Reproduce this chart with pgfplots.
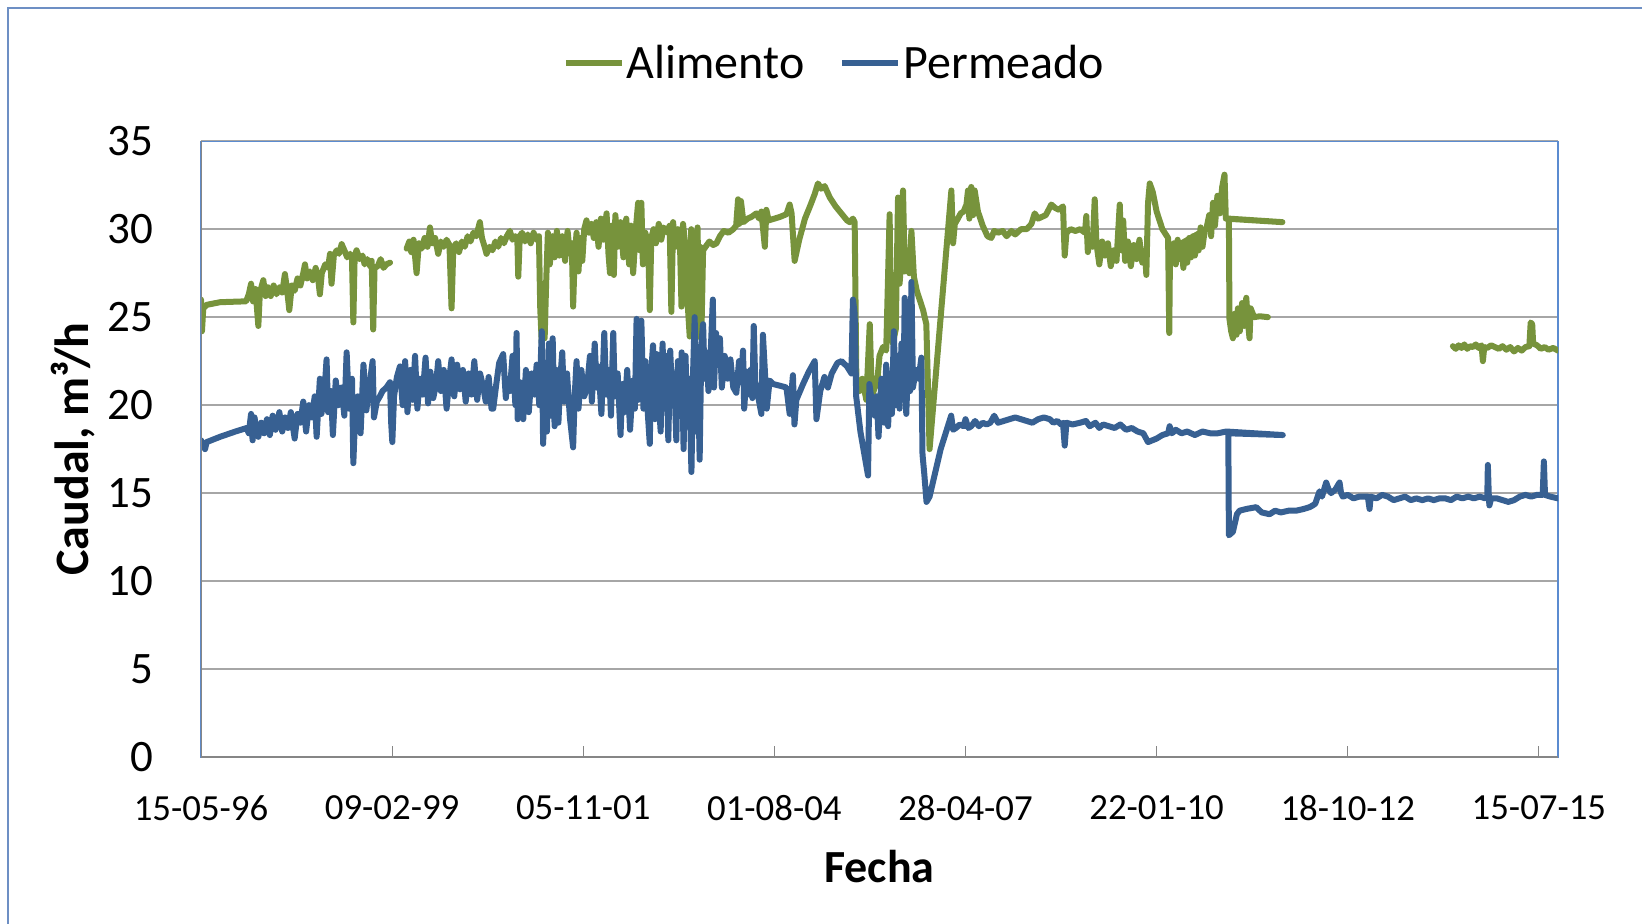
\documentclass[border=0pt]{standalone}
\usepackage{fontspec}
\setmainfont{Carlito}
\usepackage{pgfplots}
\pgfplotsset{compat=1.18}
\definecolor{alim}{HTML}{77933C}
\definecolor{perm}{HTML}{376092}
\definecolor{gridc}{HTML}{A6A6A6}
\definecolor{axc}{HTML}{868686}
\definecolor{framec}{HTML}{6D8FC4}
\definecolor{plotframe}{HTML}{5B8BD0}
\begin{document}
\begin{tikzpicture}
\path[use as bounding box] (-100.5pt,-83pt) rectangle (720.5pt,378.5pt);
\draw[framec, line width=0.9pt] (-96.3pt,-90pt) -- (-96.3pt,374.3pt) -- (730pt,374.3pt);
\begin{axis}[
  at={(0pt,0pt)}, anchor=south west,
  scale only axis, width=678.5pt, height=307.9pt,
  xmin=0, xmax=7100, ymin=0, ymax=35,
  unbounded coords=jump,
  xtick={0,1000,...,7000},
  xticklabels={15-05-96,09-02-99,05-11-01,01-08-04,28-04-07,22-01-10,18-10-12,15-07-15},
  ytick={0,5,...,35},
  ymajorgrids, major grid style={gridc, line width=0.8pt},
  axis line style={plotframe, line width=0.6pt},
  tick align=inside,
  xtick pos=bottom, ytick pos=left,
  major tick length=5.5pt,
  ytick style={draw=none},
  xtick style={axc, line width=0.6pt},
  x tick label style={font=\fontsize{18.4pt}{20pt}\selectfont, anchor=north, inner sep=0pt, yshift=-19pt},
  y tick label style={font=\fontsize{22.5pt}{24pt}\selectfont, anchor=east, inner sep=0pt, xshift=-23.5pt},
  /pgf/number format/assume math mode=true,
  xlabel={Fecha}, ylabel={Caudal, m³/h},
  xlabel style={font=\bfseries\fontsize{23pt}{26pt}\selectfont, at={(axis description cs:0.5,-0.1786)}, anchor=center},
  ylabel style={font=\bfseries\fontsize{24pt}{26pt}\selectfont, at={(axis description cs:-0.0943,0.5)}, anchor=center},
  legend style={at={(0.2663,1.127)}, anchor=west, draw=none, fill=none, inner sep=0pt, legend columns=2,
    font=\fontsize{24pt}{26pt}\selectfont, /tikz/every even column/.append style={column sep=16.5pt}, nodes={inner sep=1pt}},
  legend image code/.code={\draw[#1, line width=3pt, line cap=butt] (0pt,0pt) -- (28pt,0pt);},
]
\addplot[alim, line width=3pt, line join=round, line cap=round] coordinates {
(0,26.0)(5,24.2)(12,25.5)(30,25.7)(100,25.85)(236,25.9)(250,26.3)(262,26.9)(272,25.9)(285,26.6)(300,24.5)(308,26.4)(326,27.1)(338,26.2)(350,26.7)(365,26.2)(380,26.8)(395,26.3)(410,26.7)(425,26.4)(439,27.45)(450,26.6)(462,25.4)(475,26.8)(490,26.5)(505,27.2)(520,26.8)(535,27.5)(544,28.0)(555,27.2)(570,27.6)(585,27.1)(600,27.8)(612,27.3)(622,26.3)(632,27.5)(650,28.0)(665,27.8)(675,28.6)(683,26.9)(695,28.5)(710,28.8)(722,28.6)(736,29.15)(750,28.8)(765,28.4)(780,28.6)(790,28.3)(797,24.7)(804,28.5)(814,28.8)(830,28.3)(845,28.5)(856,28.0)(870,28.3)(885,27.9)(893,28.2)(901,24.3)(908,27.8)(925,27.9)(940,28.3)(955,27.8)(970,28.0)(989,28.1)
(1030,nan)
(1076,28.9)(1090,29.3)(1100,28.7)(1112,29.4)(1128,27.5)(1140,29.2)(1155,28.9)(1170,29.5)(1185,29.0)(1198,30.1)(1210,29.2)(1225,29.5)(1241,28.6)(1255,29.3)(1270,29.0)(1285,29.4)(1300,29.1)(1311,25.5)(1320,28.9)(1335,29.2)(1350,28.7)(1365,29.3)(1380,29.0)(1395,29.6)(1410,29.3)(1425,29.8)(1440,29.6)(1459,30.4)(1470,29.5)(1484,29.0)(1494,28.6)(1510,29.0)(1525,28.8)(1540,29.3)(1555,29.0)(1570,29.5)(1585,29.2)(1600,29.6)(1616,29.9)(1630,29.4)(1645,29.6)(1655,29.5)(1660,27.3)(1668,29.6)(1680,29.8)(1695,29.3)(1710,29.7)(1725,29.2)(1740,29.8)(1755,29.4)(1768,29.6)(1775,25.5)(1783,23.5)(1790,24.5)(1798,23.8)(1806,27.0)(1815,29.8)(1825,28.0)(1838,29.6)(1850,28.4)(1862,29.9)(1875,28.5)(1890,29.6)(1905,28.2)(1918,29.9)(1930,28.6)(1940,29.2)(1947,25.6)(1955,28.4)(1965,29.8)(1975,27.6)(1985,29.5)(1995,28.2)(2005,30.0)(2017,30.5)(2030,29.8)(2042,30.3)(2055,29.5)(2068,30.4)(2080,29.0)(2092,30.6)(2105,29.4)(2122,30.9)(2132,28.6)(2140,27.5)(2150,30.2)(2160,27.4)(2168,30.8)(2180,29.0)(2195,30.4)(2210,28.4)(2225,30.6)(2240,28.0)(2250,30.2)(2261,27.5)(2275,30.0)(2287,31.5)(2296,28.8)(2304,31.5)(2312,28.0)(2325,29.8)(2340,29.0)(2348,25.4)(2356,29.5)(2368,30.0)(2380,29.2)(2395,30.3)(2408,29.4)(2420,30.1)(2440,29.8)(2452,30.2)(2461,25.3)(2470,30.4)(2482,29.0)(2495,30.0)(2506,29.2)(2514,25.6)(2522,30.3)(2535,29.0)(2545,26.0)(2557,23.9)(2565,30.0)(2572,24.0)(2580,29.5)(2590,23.8)(2598,30.1)(2606,24.5)(2612,29.0)(2618,23.9)(2627,28.8)(2640,29.0)(2660,29.3)(2680,29.1)(2697,29.2)(2715,29.6)(2735,29.9)(2760,29.8)(2785,30.0)(2800,30.2)(2810,31.7)(2816,30.3)(2825,31.6)(2838,30.4)(2860,30.6)(2880,30.7)(2906,30.9)(2920,30.6)(2932,31.0)(2950,29.0)(2958,31.1)(2970,30.5)(3000,30.6)(3030,30.7)(3063,30.85)(3080,31.4)(3090,30.9)(3106,28.2)(3130,29.4)(3160,30.6)(3190,31.4)(3211,32.0)(3228,32.6)(3245,32.3)(3263,32.45)(3290,31.8)(3320,31.3)(3350,30.9)(3380,30.5)(3394,30.4)(3411,30.6)(3420,30.4)(3429,21.4)(3445,20.8)(3460,21.5)(3481,20.3)(3499,24.6)(3510,20.5)(3525,21.0)(3537,21.2)(3550,22.8)(3568,23.3)(3585,23.1)(3603,30.85)(3610,24.0)(3620,23.5)(3635,24.3)(3647,31.8)(3655,26.9)(3666,28.5)(3673,32.2)(3682,27.6)(3695,28.8)(3706,27.5)(3717,29.9)(3730,27.3)(3745,26.5)(3760,26.0)(3778,25.4)(3795,24.6)(3812,17.5)(3870,25.0)(3926,32.2)(3935,29.2)(3944,30.3)(3960,30.6)(3975,30.9)(3990,31.0)(4005,31.4)(4013,32.2)(4020,30.6)(4030,32.4)(4040,30.8)(4048,32.2)(4065,31.0)(4090,30.2)(4115,29.6)(4135,29.5)(4150,29.9)(4170,29.8)(4195,29.9)(4215,29.6)(4240,29.9)(4260,29.7)(4290,30.0)(4320,30.0)(4345,30.3)(4362,30.9)(4380,30.6)(4400,30.7)(4420,30.8)(4449,31.4)(4470,31.2)(4490,31.1)(4510,31.3)(4519,28.5)(4528,29.8)(4550,30.0)(4575,29.9)(4600,30.0)(4625,29.8)(4632,30.75)(4640,28.7)(4650,29.6)(4665,29.0)(4676,31.7)(4685,29.2)(4700,28.0)(4715,29.3)(4730,28.5)(4745,29.2)(4760,27.9)(4775,28.8)(4790,28.2)(4807,31.4)(4815,28.8)(4825,30.5)(4835,28.2)(4850,29.3)(4865,27.9)(4880,29.1)(4895,28.3)(4910,29.4)(4925,28.1)(4940,28.6)(4946,27.4)(4955,31.5)(4964,32.6)(4980,32.1)(5000,31.0)(5030,30.0)(5060,29.5)(5066,24.1)(5070,28.8)(5080,28.5)(5090,29.2)(5100,28.0)(5110,29.4)(5120,28.3)(5130,29.0)(5140,27.8)(5150,29.3)(5160,28.1)(5170,29.5)(5180,28.4)(5190,29.6)(5200,28.5)(5210,29.1)(5220,28.8)(5230,30.1)(5240,29.0)(5250,29.8)(5082,28.9)(5260,30.0)(5275,30.8)(5285,29.6)(5295,31.5)(5305,30.2)(5318,31.9)(5330,30.9)(5343,32.4)(5355,33.1)(5362,30.6)(5658,30.4)(5378,30.6)(5381,24.9)(5390,24.2)(5399,23.8)(5410,25.2)(5418,24.0)(5425,25.5)(5435,24.2)(5447,25.8)(5458,24.5)(5469,26.1)(5477,24.8)(5486,23.8)(5492,25.5)(5510,25.0)(5540,25.05)(5582,25.0)
(6000,nan)
(6550,23.35)(6565,23.2)(6580,23.4)(6595,23.25)(6610,23.45)(6625,23.2)(6640,23.35)(6655,23.3)(6670,23.45)(6685,23.25)(6700,23.4)(6707,22.5)(6714,23.3)(6730,23.25)(6750,23.4)(6770,23.3)(6790,23.2)(6810,23.35)(6830,23.15)(6850,23.3)(6870,23.05)(6890,23.25)(6910,23.1)(6930,23.3)(6950,23.35)(6957,24.7)(6965,24.6)(6970,23.5)(6990,23.4)(7010,23.2)(7030,23.3)(7050,23.15)(7075,23.25)(7100,23.1)
};
\addlegendentry{Alimento}
\addplot[perm, line width=3pt, line join=round, line cap=round] coordinates {
(0,18.0)(12,17.8)(21,17.5)(30,17.9)(100,18.2)(180,18.5)(239,18.7)(250,18.4)(262,19.5)(270,18.0)(280,19.3)(290,18.6)(300,18.2)(315,19.0)(330,18.4)(345,19.2)(360,18.3)(375,19.4)(390,18.6)(410,19.6)(425,18.5)(440,19.3)(455,18.7)(470,19.6)(490,18.1)(505,19.5)(520,19.0)(535,20.2)(550,18.5)(565,20.0)(580,19.3)(595,20.5)(605,18.2)(622,21.5)(630,19.5)(645,20.6)(657,22.6)(665,19.6)(680,20.8)(690,18.3)(705,21.4)(720,20.0)(735,21.0)(750,19.4)(762,23.0)(775,19.8)(790,21.5)(797,16.7)(805,19.0)(820,20.5)(835,18.4)(850,22.3)(865,19.7)(880,21.0)(898,22.5)(905,19.3)(920,20.2)(936,20.5)(950,20.8)(970,21.0)(989,21.3)(995,19.0)(1001,17.9)(1010,20.5)(1025,21.6)(1041,22.2)(1055,20.0)(1068,22.5)(1080,19.6)(1095,22.0)(1108,20.3)(1120,22.8)(1132,19.8)(1145,21.5)(1160,20.6)(1175,22.7)(1188,20.1)(1200,21.9)(1215,20.4)(1230,21.2)(1241,22.5)(1255,20.8)(1270,22.0)(1285,19.8)(1300,21.6)(1311,22.6)(1325,20.5)(1340,22.3)(1355,20.9)(1370,22.0)(1385,20.2)(1400,21.8)(1415,20.6)(1430,22.5)(1445,20.3)(1460,21.8)(1477,21.0)(1490,20.2)(1505,21.6)(1520,19.8)(1529,19.8)(1545,21.2)(1560,22.4)(1581,22.9)(1595,20.4)(1605,21.5)(1616,20.8)(1630,22.8)(1645,20.0)(1651,24.1)(1657,19.2)(1670,21.3)(1686,19.2)(1700,22.0)(1715,19.6)(1730,21.8)(1745,20.6)(1756,22.3)(1770,20.0)(1783,24.2)(1790,17.8)(1800,21.5)(1810,18.5)(1820,23.5)(1830,19.4)(1840,23.8)(1850,18.8)(1860,22.0)(1870,19.0)(1880,21.5)(1890,23.0)(1900,20.2)(1915,21.8)(1930,19.3)(1947,17.6)(1955,20.5)(1965,22.5)(1975,19.8)(1990,22.0)(2005,20.5)(2020,21.0)(2035,22.8)(2045,20.2)(2060,23.5)(2070,21.0)(2080,22.2)(2095,19.5)(2110,24.1)(2120,20.6)(2135,22.0)(2145,19.4)(2157,24.1)(2165,20.5)(2180,21.8)(2195,18.3)(2205,21.2)(2215,19.6)(2230,22.0)(2245,18.6)(2260,21.4)(2270,19.8)(2279,24.9)(2288,20.3)(2296,21.2)(2304,24.8)(2315,19.8)(2325,22.5)(2335,20.0)(2348,17.8)(2355,21.8)(2365,23.4)(2375,19.2)(2385,22.9)(2395,20.3)(2405,18.5)(2415,23.5)(2425,19.8)(2435,22.8)(2445,18.0)(2455,23.1)(2465,20.5)(2475,21.8)(2487,18.0)(2495,22.5)(2505,19.5)(2515,23.0)(2525,17.5)(2535,22.8)(2545,19.0)(2555,21.5)(2566,16.2)(2575,22.0)(2583,25.0)(2590,18.5)(2600,22.0)(2609,16.9)(2618,23.5)(2627,24.6)(2635,21.5)(2645,23.0)(2655,20.8)(2665,22.5)(2678,26.0)(2684,21.0)(2695,24.1)(2705,22.5)(2715,23.8)(2725,21.0)(2740,22.8)(2755,21.5)(2770,22.6)(2785,21.0)(2801,20.7)(2815,22.5)(2825,21.3)(2836,23.1)(2842,19.8)(2855,21.9)(2868,20.6)(2875,22.0)(2885,20.4)(2892,24.5)(2900,21.3)(2915,20.5)(2932,19.5)(2940,24.0)(2950,22.0)(2960,19.8)(2975,21.4)(2993,21.2)(3030,21.1)(3063,21.0)(3080,19.5)(3097,21.7)(3105,18.9)(3115,20.3)(3150,21.2)(3180,21.9)(3211,22.5)(3220,19.2)(3240,20.8)(3262,21.6)(3280,21.0)(3300,21.8)(3330,22.4)(3351,22.5)(3380,22.2)(3403,21.8)(3411,26.0)(3420,25.2)(3428,20.5)(3450,18.5)(3490,16.0)(3497,21.2)(3510,20.2)(3525,19.4)(3535,20.5)(3545,18.2)(3560,21.5)(3575,19.0)(3585,22.3)(3595,18.8)(3605,21.8)(3615,19.5)(3625,24.2)(3635,20.0)(3645,22.8)(3655,19.8)(3665,23.5)(3675,20.5)(3682,26.1)(3690,19.5)(3700,22.5)(3710,20.8)(3717,27.0)(3725,21.0)(3740,22.0)(3755,21.5)(3769,22.7)(3775,17.2)(3785,16.0)(3796,14.5)(3812,14.8)(3870,17.5)(3925,19.4)(3935,18.6)(3950,18.7)(3970,18.9)(3990,18.8)(4000,19.2)(4015,18.7)(4030,18.8)(4050,19.1)(4070,18.8)(4090,19.0)(4110,18.9)(4130,19.0)(4150,19.4)(4170,19.0)(4200,19.1)(4230,19.2)(4260,19.3)(4290,19.2)(4320,19.1)(4350,19.0)(4380,19.2)(4410,19.3)(4441,19.2)(4460,19.0)(4480,19.1)(4500,18.9)(4510,19.0)(4519,17.7)(4528,19.0)(4560,18.9)(4600,19.0)(4630,19.1)(4650,18.8)(4680,19.0)(4700,18.7)(4720,18.9)(4750,18.8)(4780,18.7)(4810,18.9)(4840,18.6)(4870,18.7)(4900,18.5)(4930,18.4)(4955,17.9)(5000,18.1)(5030,18.3)(5060,18.4)(5068,18.8)(5080,18.4)(5100,18.6)(5130,18.4)(5160,18.5)(5200,18.3)(5240,18.5)(5280,18.4)(5320,18.4)(5364,18.5)(5660,18.3)(5375,18.4)(5378,12.6)(5399,12.8)(5420,13.8)(5434,14.0)(5470,14.1)(5521,14.2)(5550,13.9)(5591,13.8)(5620,14.0)(5650,13.9)(5690,14.0)(5730,14.0)(5770,14.1)(5800,14.2)(5817,14.3)(5830,14.4)(5852,15.1)(5865,14.8)(5887,15.6)(5900,15.2)(5913,15.0)(5935,15.2)(5957,15.6)(5965,15.0)(5974,14.8)(6000,14.9)(6030,14.7)(6060,14.8)(6079,14.8)(6105,14.8)(6114,14.1)(6120,14.8)(6150,14.7)(6180,14.9)(6210,14.8)(6240,14.6)(6270,14.7)(6300,14.8)(6330,14.6)(6358,14.7)(6390,14.6)(6420,14.7)(6450,14.6)(6480,14.7)(6510,14.7)(6540,14.6)(6570,14.8)(6600,14.7)(6630,14.8)(6660,14.7)(6690,14.8)(6720,14.7)(6730,14.8)(6733,16.6)(6738,14.8)(6741,14.3)(6750,14.7)(6780,14.7)(6810,14.6)(6840,14.5)(6870,14.6)(6900,14.8)(6930,14.9)(6960,14.8)(6990,14.9)(7020,14.9)(7026,16.8)(7032,14.9)(7060,14.8)(7100,14.7)
};
\addlegendentry{Permeado}
\draw[axc, line width=1pt] (rel axis cs:0,1) -- (rel axis cs:0,0) -- (rel axis cs:1,0);
\end{axis}
\end{tikzpicture}
\end{document}
